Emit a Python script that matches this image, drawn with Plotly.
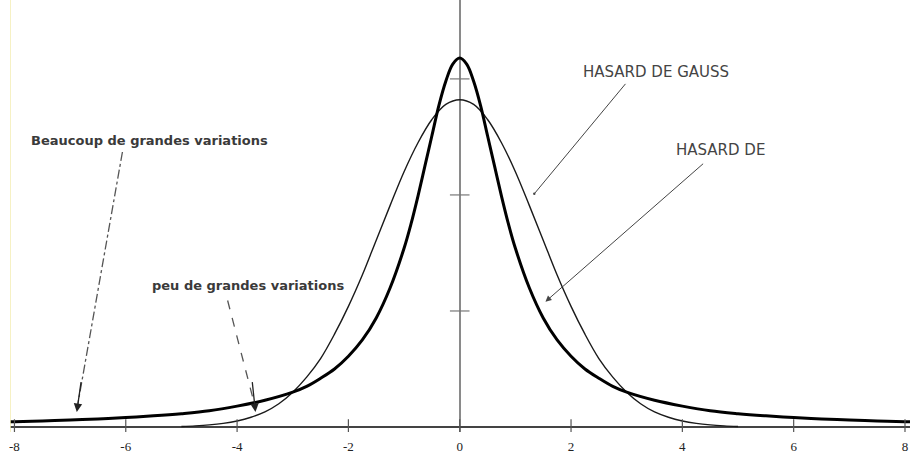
import plotly.graph_objects as go

# --- data ---
thick_x = [-8.1, -8.0, -7.5, -7.0, -6.5, -6.0, -5.5, -5.0, -4.5, -4.0, -3.5, -3.0, -2.75, -2.5, -2.25,
           -2.0, -1.75, -1.5, -1.25, -1.0, -0.875, -0.75, -0.625, -0.5, -0.375, -0.25, -0.125, 0.0,
           0.125, 0.25, 0.375, 0.5, 0.625, 0.75, 0.875, 1.0, 1.25, 1.5, 1.75, 2.0, 2.25, 2.5, 2.75,
           3.0, 3.5, 4.0, 4.5, 5.0, 5.5, 6.0, 6.5, 7.0, 7.5, 8.0, 8.1]
thick_y = [0.045, 0.046, 0.052, 0.060, 0.069, 0.081, 0.096, 0.115, 0.14, 0.18, 0.23, 0.30, 0.35, 0.42, 0.50,
           0.61, 0.75, 0.94, 1.20, 1.54, 1.75, 1.99, 2.25, 2.51, 2.77, 2.98, 3.128, 3.18,
           3.128, 2.98, 2.77, 2.51, 2.25, 1.99, 1.75, 1.54, 1.20, 0.94, 0.75, 0.61, 0.50, 0.42, 0.35,
           0.30, 0.23, 0.18, 0.14, 0.115, 0.096, 0.081, 0.069, 0.060, 0.052, 0.046, 0.045]

gauss_x = [-5.0, -4.75, -4.5, -4.25, -4.0, -3.75, -3.5, -3.25, -3.0, -2.75, -2.5, -2.25, -2.0, -1.75,
           -1.5, -1.25, -1.0, -0.75, -0.5, -0.25, 0.0, 0.25, 0.5, 0.75, 1.0, 1.25, 1.5, 1.75, 2.0,
           2.25, 2.5, 2.75, 3.0, 3.25, 3.5, 3.75, 4.0, 4.25, 4.5, 4.75, 5.0]
gauss_y = [0.005, 0.01, 0.018, 0.031, 0.052, 0.084, 0.13, 0.20, 0.30, 0.43, 0.59, 0.80, 1.04, 1.31,
           1.61, 1.91, 2.20, 2.45, 2.65, 2.78, 2.82, 2.78, 2.65, 2.45, 2.20, 1.91, 1.61, 1.31, 1.04,
           0.80, 0.59, 0.43, 0.30, 0.20, 0.13, 0.084, 0.052, 0.031, 0.018, 0.01, 0.005]

x_ticks = [-8, -6, -4, -2, 0, 2, 4, 6, 8]
x_tick_labels = ["-8", "-6", "-4", "-2", "0", "2", "4", "6", "8"]
y_ticks = [1, 2, 3]

labels = ["HASARD DE GAUSS", "HASARD DE", "Beaucoup de grandes variations", "peu de grandes variations"]

fig = go.Figure()

# curves
fig.add_trace(go.Scatter(x=gauss_x, y=gauss_y, mode="lines", line=dict(color="#1a1a1a", width=1.4, shape="spline"),
                         hoverinfo="skip", showlegend=False))
fig.add_trace(go.Scatter(x=thick_x, y=thick_y, mode="lines", line=dict(color="#000000", width=3, shape="spline"),
                         hoverinfo="skip", showlegend=False))

# tick marks on the horizontal axis
fig.add_trace(go.Scatter(x=x_ticks, y=[0] * len(x_ticks), mode="markers",
                         marker=dict(symbol="line-ns", size=11, line=dict(color="#555555", width=1.2)),
                         hoverinfo="skip", showlegend=False))
# tick marks on the vertical axis
fig.add_trace(go.Scatter(x=[0] * len(y_ticks), y=y_ticks, mode="markers",
                         marker=dict(symbol="line-ew", size=14, line=dict(color="#777777", width=1.2)),
                         hoverinfo="skip", showlegend=False))

# dashed arrow shafts
fig.add_shape(type="line", x0=-6.06, y0=2.37, x1=-6.86, y1=0.20,
              line=dict(color="#555555", width=1.3, dash="dashdot"))
fig.add_shape(type="line", x0=-4.17, y0=1.09, x1=-3.69, y1=0.20,
              line=dict(color="#555555", width=1.3, dash="dash"))
# a faint yellow border at the left
fig.add_shape(type="line", xref="x", yref="paper", x0=-8.08, x1=-8.08, y0=0, y1=1,
              line=dict(color="#f3ecb0", width=1.5))

# arrowheads for dashed arrows (short annotations)
fig.add_annotation(x=-6.88, y=0.13, ax=-6.80, ay=0.40, axref="x", ayref="y", text="", showarrow=True,
                   arrowhead=2, arrowsize=1.3, arrowwidth=1.3, arrowcolor="#222222")
fig.add_annotation(x=-3.67, y=0.13, ax=-3.73, ay=0.40, axref="x", ayref="y", text="", showarrow=True,
                   arrowhead=2, arrowsize=1.3, arrowwidth=1.3, arrowcolor="#222222")

# solid arrows
fig.add_annotation(x=1.34, y=2.01, ax=3.00, ay=2.97, axref="x", ayref="y", text="", showarrow=True,
                   arrowhead=6, arrowsize=0.6, arrowwidth=1.0, arrowcolor="#444444")
fig.add_annotation(x=1.54, y=1.08, ax=4.40, ay=2.28, axref="x", ayref="y", text="", showarrow=True,
                   arrowhead=2, arrowsize=1.2, arrowwidth=1.0, arrowcolor="#444444")

# texts
txt_font = dict(family="DejaVu Sans", size=15, color="#444444")
fig.add_annotation(x=3.52, y=3.06, text=labels[0], showarrow=False, font=txt_font)
fig.add_annotation(x=4.68, y=2.39, text=labels[1], showarrow=False, font=txt_font)
bold_font = dict(family="DejaVu Sans", size=13, color="#3a3a3a", weight="bold")
fig.add_annotation(x=-5.58, y=2.47, text=labels[2], showarrow=False, font=bold_font)
fig.add_annotation(x=-3.81, y=1.22, text=labels[3], showarrow=False, font=bold_font)

fig.update_layout(
    width=910, height=464,
    margin=dict(l=10, r=0, t=0, b=32),
    plot_bgcolor="white", paper_bgcolor="white",
    showlegend=False,
    xaxis=dict(range=[-8.08, 8.09], tickvals=x_ticks, ticktext=x_tick_labels, showgrid=False,
               zeroline=True, zerolinecolor="#8a8a8a", zerolinewidth=1.5, automargin=False,
               showline=False, ticks="", ticklabelstandoff=5, ticklabeloverflow="allow",
               tickfont=dict(family="Liberation Serif", size=13, color="#222222"), fixedrange=True),
    yaxis=dict(range=[-0.043, 3.68], showgrid=False, zeroline=True, zerolinecolor="#444444", zerolinewidth=1.6,
               showticklabels=False, showline=False, ticks="", fixedrange=True, automargin=False),
)

fig.write_html("out.html", config={"displayModeBar": False},
               post_script="document.body.style.margin='0';document.body.style.overflow='hidden';")
